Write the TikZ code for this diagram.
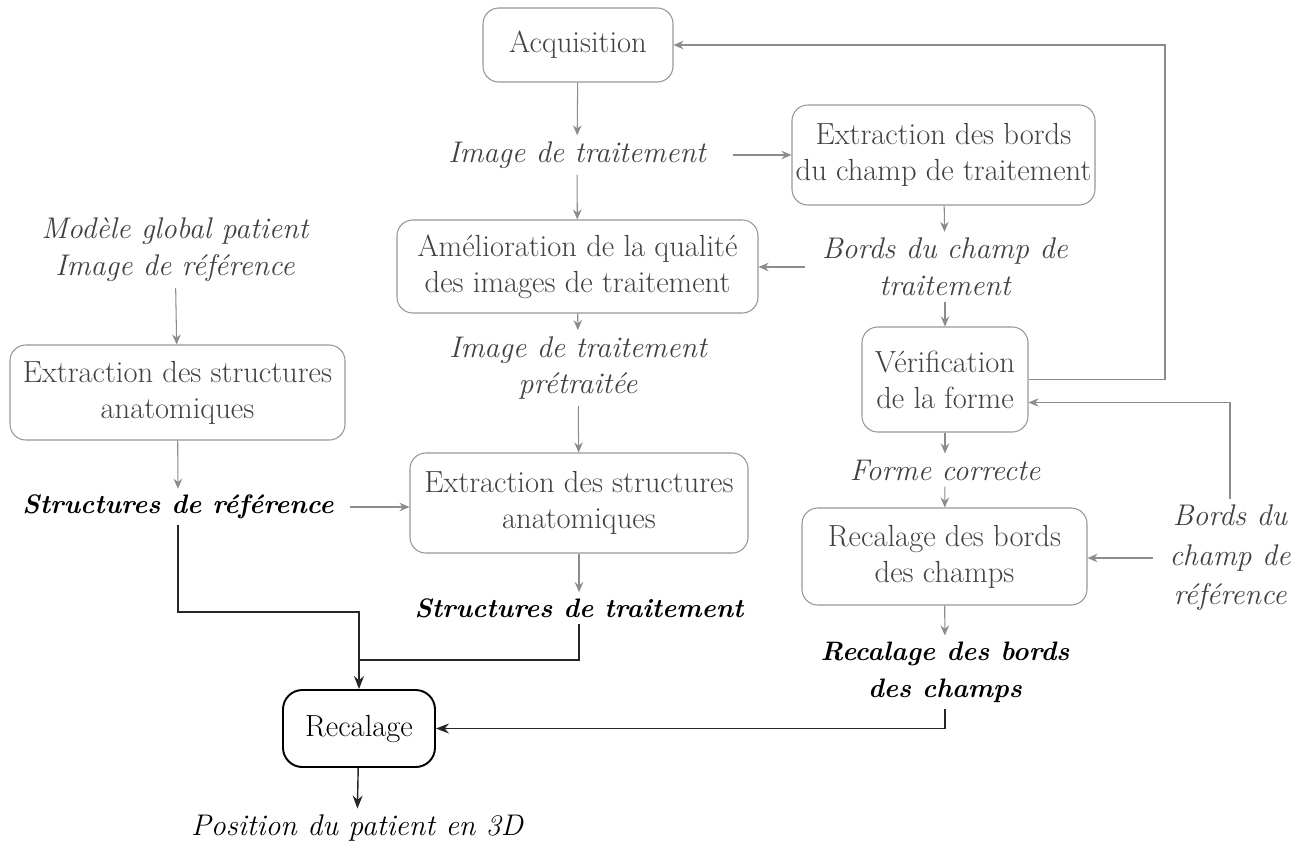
\documentclass[tikz,border=0pt]{standalone}
\usetikzlibrary{arrows.meta,calc}
\definecolor{boxline}{RGB}{150,150,150}
\definecolor{boxtext}{RGB}{65,65,65}
\definecolor{arrowcol}{RGB}{140,140,140}

\begin{document}
\begin{tikzpicture}[
  stepbox/.style={draw=boxline, line width=0.6pt, rounded corners=9pt, align=center, text=boxtext, font=\fontsize{17.4}{20.5}\selectfont, inner sep=2pt},
  mainbox/.style={draw=black, line width=1.1pt, rounded corners=11pt, align=center, font=\fontsize{17.4}{20.5}\selectfont},
  datalbl/.style={align=center, text=boxtext, font=\fontsize{17}{21}\selectfont\itshape},
  reslbl/.style={align=center, font=\fontsize{15.2}{21}\selectfont\bfseries\itshape},
  flow/.style={draw=arrowcol, line width=0.6pt, -{Stealth[length=2mm,width=1.7mm]}},
  recflow/.style={draw=black!85, line width=0.8pt, -{Stealth[length=2.6mm,width=2mm]}},
  joinline/.style={draw=black!85, line width=0.8pt},
]
\useasboundingbox (0,0) rectangle (26.18,-17.16);

% ===== Middle column =====
\node[stepbox, minimum width=3.8cm, minimum height=1.48cm] (acq) at (11.56,-0.9) {Acquisition};
\node[datalbl] (imgt) at (11.54,-3.1) {Image de traitement};
\node[stepbox, minimum width=7.22cm, minimum height=1.86cm] (amel) at (11.55,-5.33) {Amélioration de la qualité\\des images de traitement};
\node[datalbl] (imgp) at (11.56,-7.36) {Image de traitement\\prétraitée};
\node[stepbox, minimum width=6.76cm, minimum height=2cm] (extrt) at (11.58,-10.06) {Extraction des structures\\anatomiques};
\node[reslbl] (strt) at (11.58,-12.16) {Structures de traitement};

% ===== Left column =====
\node[datalbl] (model) at (3.5,-5.0) {Modèle global patient\\Image de référence};
\node[stepbox, minimum width=6.7cm, minimum height=1.9cm] (extrr) at (3.55,-7.85) {Extraction des structures\\anatomiques};
\node[reslbl] (strr) at (3.56,-10.14) {Structures de référence};
\node[mainbox, minimum width=3.04cm, minimum height=1.54cm] (rec) at (7.18,-14.57) {Recalage};
\node[datalbl, text=black] (pos) at (7.14,-16.56) {Position du patient en 3D};

% ===== Right column =====
\node[stepbox, minimum width=6.06cm, minimum height=2cm] (bords) at (18.87,-3.1) {Extraction des bords\\du champ de traitement};
\node[datalbl] (bordst) at (18.9,-5.34) {Bords du champ de\\traitement};
\node[stepbox, minimum width=3.32cm, minimum height=2.1cm] (verif) at (18.9,-7.59) {Vérification\\de la forme};
\node[datalbl] (formc) at (18.9,-9.4) {Forme correcte};
\node[stepbox, minimum width=5.7cm, minimum height=1.94cm] (recb) at (18.89,-11.13) {Recalage des bords\\des champs};
\node[reslbl] (recbr) at (18.9,-13.44) {Recalage des bords\\des champs};
\node[datalbl, font=\fontsize{17}{22.5}\selectfont\itshape] (bordsr) at (24.6,-11.16) {Bords du\\champ de\\référence};

% ===== Bends =====
\coordinate (loop) at (23.3,-0.9);
\coordinate (jleft) at (7.18,-12.24);
\coordinate (jright) at (7.18,-13.2);

% ===== Connectors =====
\draw[flow] (acq) -- (imgt);
\draw[flow] (imgt) -- (amel);
\draw[flow, shorten <=12pt] (imgt.east) -- (imgt.east -| bords.west);
\draw[flow] (amel) -- (imgp);
\draw[flow] (imgp) -- (extrt);
\draw[flow] (extrt) -- (strt);
\draw[flow] (model) -- (extrr);
\draw[flow] (extrr) -- (strr);
\draw[flow, shorten <=6pt] (strr.east) -- (strr.east -| extrt.west);
\draw[flow] (bords) -- (bordst);
\draw[flow, shorten <=6pt] (bordst.west) -- (bordst.west -| amel.east);
\draw[flow] (bordst) -- (verif);
\draw[flow] (verif) -- (formc);
\draw[flow] (formc) -- (recb);
\draw[flow] (recb) -- (recbr);
\draw[flow, shorten <=6pt] (bordsr.west) -- (bordsr.west -| recb.east);
% loops back
\draw[flow] (verif.east) -| (loop) -- (acq.east);
\draw[flow] (bordsr.north) |- ($(verif.east)+(0,-0.46)$);
% towards Recalage
\draw[recflow] (strr.south) |- (jleft) -- (rec.north);
\draw[joinline] (strt.south) |- (jright);
\draw[recflow] (recbr.south) |- (rec.east);
\draw[recflow] (rec) -- (pos);
\end{tikzpicture}
\end{document}
